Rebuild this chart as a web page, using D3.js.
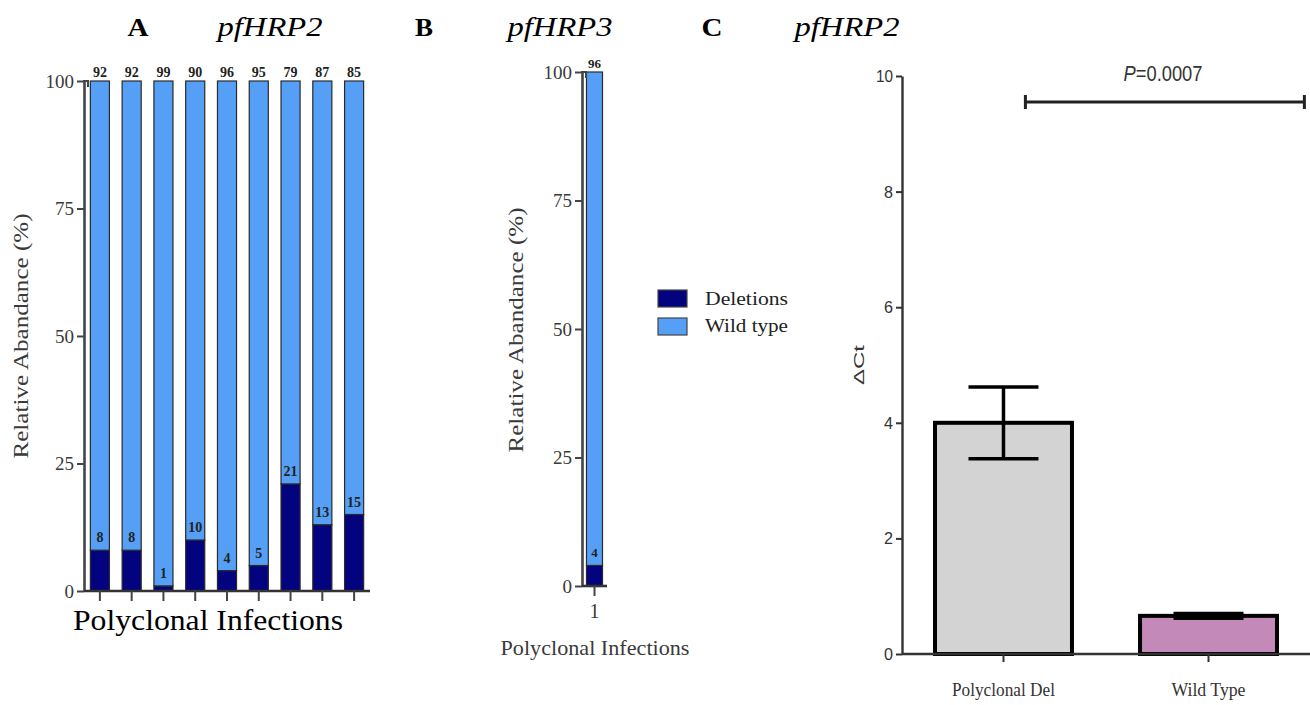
<!DOCTYPE html>
<html>
<head>
<meta charset="utf-8">
<script src="https://cdn.jsdelivr.net/npm/d3@7"></script>
<style>
  body { margin: 0; background: #fff; }
  svg text { font-family: "Liberation Serif", "Times New Roman", Times, serif; }
</style>
</head>
<body>
<svg id="chart" width="1310" height="705"></svg>
<script>
// panel A - pfHRP2 polyclonal infections (%)
var samplesA = ["1", "2", "3", "4", "5", "6", "7", "8", "9"];
var deletionsA = [8, 8, 1, 10, 4, 5, 21, 13, 15];
var wildA = [92, 92, 99, 90, 96, 95, 79, 87, 85];

// panel B - pfHRP3
var samplesB = ["1"];
var deletionsB = [4];
var wildB = [96];

var pctTicks = [0, 25, 50, 75, 100];

// panel C - delta Ct
var groupsC = ["Polyclonal Del", "Wild Type"];
var meanC = [4.0, 0.66];
var semC = [0.62, 0.04];
var ctTicks = [0, 2, 4, 6, 8, 10];
var pLabel = "0.0007";

var colDel = "#03037f", colWild = "#55a0f6";
var colorsC = ["#d3d3d3", "#c389b8"];

var serif = '"Liberation Serif", "Times New Roman", Times, serif';
var sans = '"Liberation Sans", Arial, sans-serif';

var svg = d3.select("#chart");

function txt(g, x, y, s, size, opts) {
  opts = opts || {};
  var t = g.append("text").attr("x", x).attr("y", y)
    .attr("font-size", size)
    .attr("text-anchor", opts.anchor || "middle")
    .attr("fill", opts.fill || "#000")
    .text(s);
  if (opts.weight) t.attr("font-weight", opts.weight);
  if (opts.italic) t.attr("font-style", "italic");
  if (opts.len) t.attr("textLength", opts.len).attr("lengthAdjust", "spacingAndGlyphs");
  if (opts.family) t.style("font-family", opts.family);
  if (opts.rotate) t.attr("transform", "rotate(-90," + x + "," + y + ")");
  return t;
}

// panel titles
txt(svg, 138, 36, "A", 25, {weight: "bold", len: 21});
txt(svg, 270, 36, "pfHRP2", 27, {italic: true, len: 105});
txt(svg, 424, 36, "B", 25, {weight: "bold", len: 18});
txt(svg, 560, 36, "pfHRP3", 27, {italic: true, len: 105});
txt(svg, 712, 36, "C", 25, {weight: "bold", len: 21});
txt(svg, 847, 36, "pfHRP2", 27, {italic: true, len: 105});

function stackedPanel(cfg) {
  var g = svg.append("g");
  var rows = cfg.samples.map(function(s, i) {
    return {sample: s, del: cfg.del[i], wild: cfg.wild[i]};
  });
  var x = d3.scaleBand().domain(cfg.samples).range(cfg.xr)
    .paddingInner(cfg.pi).paddingOuter(cfg.po);
  var y = d3.scaleLinear().domain([0, 100]).range(cfg.yr);
  var series = d3.stack().keys(["del", "wild"])(rows);

  g.selectAll("g.layer").data(series).join("g")
    .attr("fill", function(d) { return d.key === "del" ? colDel : colWild; })
    .selectAll("rect").data(function(d) { return d; }).join("rect")
    .attr("x", function(d) { return x(d.data.sample); })
    .attr("width", x.bandwidth())
    .attr("y", function(d) { return y(d[1]); })
    .attr("height", function(d) { return y(d[0]) - y(d[1]); })
    .attr("stroke", "#2a2a2a").attr("stroke-width", 1.2);

  // value labels
  rows.forEach(function(r) {
    var cx = x(r.sample) + x.bandwidth() / 2;
    txt(g, cx, y(100) - 4, r.wild, cfg.lab, {weight: "bold", fill: "#222"});
    txt(g, cx, y(r.del) - 8, r.del, cfg.lab, {weight: "bold", fill: "#222"});
  });

  // y axis
  var ya = g.append("g").attr("transform", "translate(" + cfg.xr[0] + ",0)")
    .call(d3.axisLeft(y).tickValues(pctTicks).tickSize(7).tickSizeOuter(0));
  ya.select(".domain").attr("stroke", "#444").attr("stroke-width", 2.6);
  ya.selectAll(".tick line").attr("stroke", "#444").attr("stroke-width", 2);
  ya.selectAll(".tick text").attr("font-size", 19).attr("fill", "#3a3a3a")
    .style("font-family", serif);
  g.append("path")
    .attr("d", "M" + (cfg.xr[0] - 1) + "," + y(100) + "h5v6")
    .attr("fill", "none").attr("stroke", "#444").attr("stroke-width", 2);

  // x axis
  g.append("line").attr("x1", cfg.xr[0]).attr("x2", cfg.xr[1])
    .attr("y1", y(0)).attr("y2", y(0))
    .attr("stroke", "#333").attr("stroke-width", 2.6);
  g.selectAll("line.xt").data(cfg.samples).join("line").attr("class", "xt")
    .attr("x1", function(d) { return x(d) + x.bandwidth() / 2; })
    .attr("x2", function(d) { return x(d) + x.bandwidth() / 2; })
    .attr("y1", y(0)).attr("y2", y(0) + 10)
    .attr("stroke", "#444").attr("stroke-width", 2);
  return {g: g, x: x, y: y};
}

var pa = stackedPanel({samples: samplesA, del: deletionsA, wild: wildA,
  xr: [84, 370], yr: [591, 81], pi: 0.4, po: 0.2, lab: 14});
txt(svg, 28, 336, "Relative Abandance (%)", 21, {rotate: true, fill: "#3a3a3a", len: 245});
txt(svg, 208, 630, "Polyclonal Infections", 30, {len: 270});

var pb = stackedPanel({samples: samplesB, del: deletionsB, wild: wildB,
  xr: [582, 607], yr: [586, 72], pi: 0, po: 0.28, lab: 13});
txt(pb.g, pb.x("1") + pb.x.bandwidth() / 2, 618, "1", 20, {fill: "#3a3a3a"});
txt(svg, 523, 330, "Relative Abandance (%)", 20, {rotate: true, fill: "#3a3a3a", len: 245});
txt(svg, 595, 655, "Polyclonal Infections", 21, {fill: "#3a3a3a", len: 189});

// legend
var legend = svg.append("g");
[["Deletions", colDel], ["Wild type", colWild]].forEach(function(d, i) {
  legend.append("rect").attr("x", 658).attr("y", 290 + i * 28)
    .attr("width", 29).attr("height", 17)
    .attr("fill", d[1]).attr("stroke", "#444").attr("stroke-width", 1.2);
  txt(legend, 705, 305 + i * 27, d[0], 18, {anchor: "start", fill: "#222", len: 83});
});

// panel C
var gc = svg.append("g");
var xc = d3.scaleBand().domain(groupsC).range([902, 1310])
  .paddingInner(0.332).paddingOuter(0.161);
var yc = d3.scaleLinear().domain([0, 10]).range([654, 76]);

gc.selectAll("rect.bar").data(groupsC).join("rect").attr("class", "bar")
  .attr("x", function(d) { return xc(d); })
  .attr("width", xc.bandwidth())
  .attr("y", function(d, i) { return yc(meanC[i]); })
  .attr("height", function(d, i) { return yc(0) - yc(meanC[i]); })
  .attr("fill", function(d, i) { return colorsC[i]; })
  .attr("stroke", "#000").attr("stroke-width", 4);

// error bars
groupsC.forEach(function(d, i) {
  var cx = xc(d) + xc.bandwidth() / 2, hw = 35;
  var top = yc(meanC[i] + semC[i]), bot = yc(meanC[i] - semC[i]);
  gc.append("path")
    .attr("d", "M" + cx + "," + top + "V" + bot +
      "M" + (cx - hw) + "," + top + "h" + 2 * hw +
      "M" + (cx - hw) + "," + bot + "h" + 2 * hw)
    .attr("fill", "none").attr("stroke", "#000").attr("stroke-width", 3.5);
});

var yca = gc.append("g").attr("transform", "translate(902,0)")
  .call(d3.axisLeft(yc).tickValues(ctTicks).tickSize(6).tickSizeOuter(0));
yca.select(".domain").attr("stroke", "#333").attr("stroke-width", 2.4);
yca.selectAll(".tick line").attr("stroke", "#333").attr("stroke-width", 2);
yca.selectAll(".tick text").attr("font-size", 17).attr("fill", "#333")
  .style("font-family", sans).attr("textLength", function(d) { return d >= 10 ? 17 : 9; })
  .attr("lengthAdjust", "spacingAndGlyphs");

gc.append("line").attr("x1", 902).attr("x2", 1310)
  .attr("y1", yc(0)).attr("y2", yc(0))
  .attr("stroke", "#333").attr("stroke-width", 2.4);
groupsC.forEach(function(d) {
  var cx = xc(d) + xc.bandwidth() / 2;
  gc.append("line").attr("x1", cx).attr("x2", cx)
    .attr("y1", yc(0)).attr("y2", yc(0) + 8)
    .attr("stroke", "#333").attr("stroke-width", 2);
  txt(gc, cx, 696, d, 18, {fill: "#333", len: d === groupsC[0] ? 103 : 74});
});

txt(gc, 864, 365, "\u0394Ct", 15, {rotate: true, fill: "#333", family: sans, len: 40});

// significance bracket
var bx1 = xc(groupsC[0]) + xc.bandwidth() * 0.66;
var bx2 = xc(groupsC[1]) + xc.bandwidth() * 1.2;
var by = yc(9.55);
gc.append("path")
  .attr("d", "M" + bx1 + "," + by + "H" + bx2 +
    "M" + bx1 + "," + (by - 7) + "v14M" + bx2 + "," + (by - 7) + "v14")
  .attr("fill", "none").attr("stroke", "#222").attr("stroke-width", 3);
var pt = gc.append("text").attr("x", 1163).attr("y", 81)
  .attr("text-anchor", "middle").attr("font-size", 22).attr("fill", "#333")
  .style("font-family", sans)
  .attr("textLength", 79).attr("lengthAdjust", "spacingAndGlyphs");
pt.append("tspan").attr("font-style", "italic").text("P");
pt.append("tspan").text("=" + pLabel);
</script>
</body>
</html>
